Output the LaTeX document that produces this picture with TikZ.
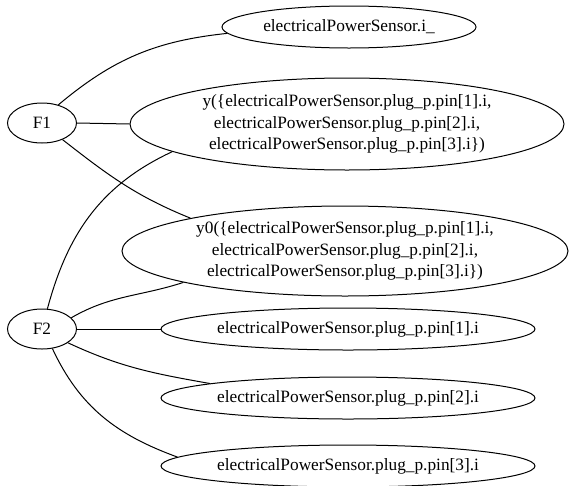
\documentclass[tikz,border=0pt]{standalone}
\usepackage{fontspec}
\setmainfont{Liberation Serif}
\usetikzlibrary{shapes.geometric}

\begin{document}
\begin{tikzpicture}[x=1pt,y=1pt,line width=1pt,
  var/.style={ellipse,draw,inner sep=0pt,align=center,font=\fontsize{17.3}{21.5}\selectfont}]
  \useasboundingbox (0,0) rectangle (569,-485);
  % equations
  \node[var,minimum width=69,minimum height=40] (F1) at (42,-123) {F1};
  \node[var,minimum width=69,minimum height=40] (F2) at (42,-329) {F2};
  % variables
  \node[var,minimum width=254,minimum height=42] (iu) at (349,-27) {electricalPowerSensor.i\_};
  \node[var,minimum width=434,minimum height=92] (y) at (347,-124) {y(\{electricalPowerSensor.plug\_p.pin[1].i,\\ electricalPowerSensor.plug\_p.pin[2].i,\\ electricalPowerSensor.plug\_p.pin[3].i\})};
  \node[var,minimum width=446,minimum height=90] (y0) at (345,-251) {y0(\{electricalPowerSensor.plug\_p.pin[1].i,\\ electricalPowerSensor.plug\_p.pin[2].i,\\ electricalPowerSensor.plug\_p.pin[3].i\})};
  \node[var,minimum width=374,minimum height=42] (p1) at (348,-329) {electricalPowerSensor.plug\_p.pin[1].i};
  \node[var,minimum width=374,minimum height=42] (p2) at (348,-398) {electricalPowerSensor.plug\_p.pin[2].i};
  \node[var,minimum width=374,minimum height=42] (p3) at (348,-466) {electricalPowerSensor.plug\_p.pin[3].i};
  % edges
  \draw (F1.48) to[out=40,in=186] (iu.183);
  \draw (F1.east) -- (y.west);
  \draw (F1.-39) to[out=-38,in=158] (y0.168);
  \draw (F2.75) to[out=75,in=205] (y.189);
  \draw (F2.21) to[out=30,in=198] (y0.191);
  \draw (F2.east) -- (p1.west);
  \draw (F2.-28) to[out=-25,in=170] (p2.174.5);
  \draw (F2.-62) to[out=-65,in=160] (p3.177);
\end{tikzpicture}
\end{document}
